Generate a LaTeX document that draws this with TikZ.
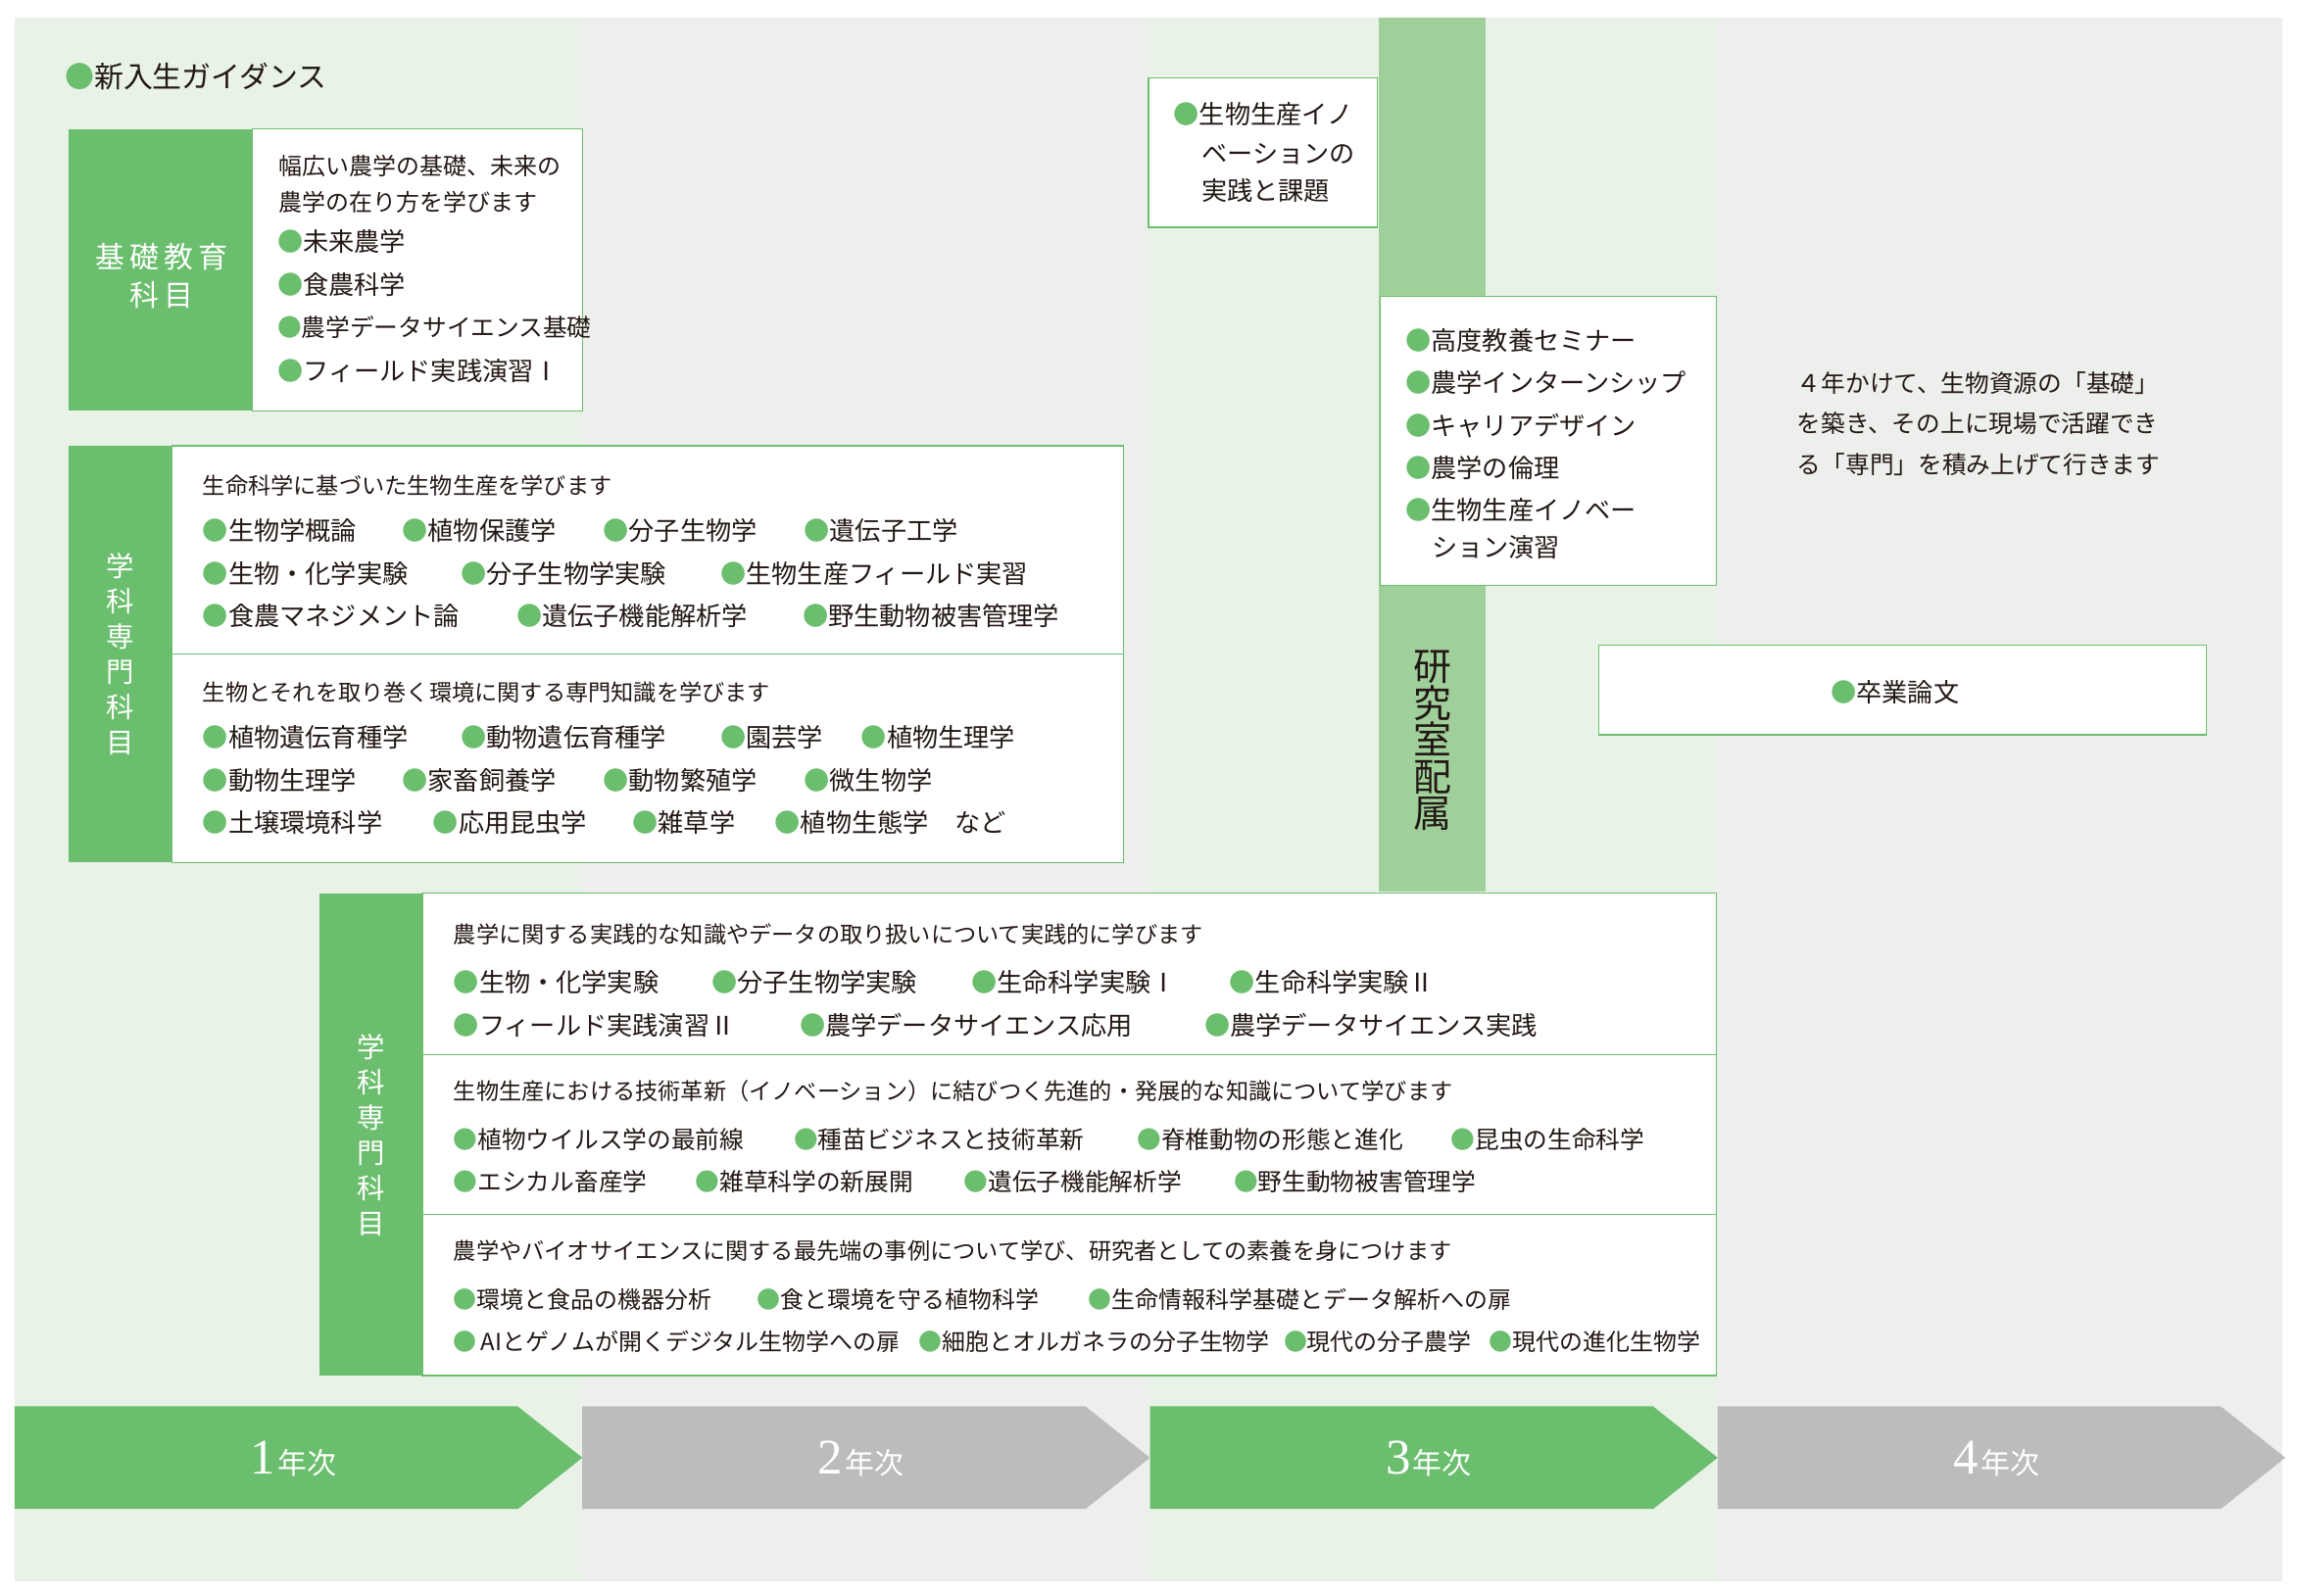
\documentclass[tikz,border=0pt]{standalone}
\usepackage{fontspec}
\setmainfont{Noto Sans CJK JP}
\usetikzlibrary{positioning}
\definecolor{gr}{HTML}{6BBE6E}
\definecolor{lgr}{HTML}{E8F2E6}
\definecolor{lgy}{HTML}{EDEFED}
\definecolor{mgr}{HTML}{A0D09A}
\definecolor{gy}{HTML}{BBBDBB}
\definecolor{tx}{HTML}{231815}
\newcommand{\bu}{{\color{gr}●}}
\newcommand{\fs}[1]{\fontsize{#1}{#1}\selectfont}
\tikzset{x=1pt,y=-1pt,
 wbox/.style={draw=gr,line width=0.8pt,fill=white},
 lab/.style={fill=gr,draw=none},
 itm/.style={anchor=west,inner sep=0,text=tx,font=\fs{17.5}},
 hd/.style={anchor=west,inner sep=0,text=tx,font=\fs{15.5}},
 vlab/.style={text=white,font=\fs{19},align=center,inner sep=0},
 yr/.style={text=white,inner sep=0}}
\begin{document}
\begin{tikzpicture}
\useasboundingbox (0,0) rectangle (1566,1088);
\fill[white] (0,0) rectangle (1566,1088);
% columns
\fill[lgr] (10,12) rectangle (397,1078);
\fill[lgy] (397,12) rectangle (784,1078);
\fill[lgr] (784,12) rectangle (1170,1078);
\fill[lgy] (1170,12) rectangle (1556,1078);
\fill[mgr] (940,12) rectangle (1013,608);
\node[anchor=center,text=tx,font=\fs{26},align=center] (ken) at (977,505) {研\\[-1pt]究\\[-1pt]室\\[-1pt]配\\[-1pt]属};
% guidance
\node[itm,font=\fs{20}] (guid) at (44,52) {\bu 新入生ガイダンス};
% kiso
\fill[lab] (47,88) rectangle (172,280);
\draw[wbox] (172,88) rectangle (397,280);
\node[vlab,font=\fs{20}] (kisol) at (110,188) {基\,礎\,教\,育\\[6pt]科\,目};
\node[hd,font=\fs{16}] at (190,113) {幅広い農学の基礎、未来の};
\node[hd,font=\fs{16}] at (190,138) {農学の在り方を学びます};
\node[itm] at (189,165) {\bu 未来農学};
\node[itm] at (189,194) {\bu 食農科学};
\node[itm,font=\fs{16.5}] at (189,223) {\bu 農学データサイエンス基礎};
\node[itm] at (189,253) {\bu フィールド実践演習Ⅰ};
% senmon 1
\fill[lab] (47,304) rectangle (117,588);
\draw[wbox] (117,304) rectangle (766,588);
\draw[gr,line width=0.8pt] (117,446) -- (766,446);
\node[vlab] (s1) at (82,446) {学\\[5pt]科\\[5pt]専\\[5pt]門\\[5pt]科\\[5pt]目};
\node[hd] at (138,331) {生命科学に基づいた生物生産を学びます};
\node[itm] at (138,362) {\bu 生物学概論};
\node[itm] at (274,362) {\bu 植物保護学};
\node[itm] at (411,362) {\bu 分子生物学};
\node[itm] at (548,362) {\bu 遺伝子工学};
\node[itm] at (138,391) {\bu 生物・化学実験};
\node[itm] at (314,391) {\bu 分子生物学実験};
\node[itm] at (491,391) {\bu 生物生産フィールド実習};
\node[itm] at (138,420) {\bu 食農マネジメント論};
\node[itm] at (352,420) {\bu 遺伝子機能解析学};
\node[itm] at (547,420) {\bu 野生動物被害管理学};
\node[hd] at (138,472) {生物とそれを取り巻く環境に関する専門知識を学びます};
\node[itm] at (138,503) {\bu 植物遺伝育種学};
\node[itm] at (314,503) {\bu 動物遺伝育種学};
\node[itm] at (491,503) {\bu 園芸学};
\node[itm] at (587,503) {\bu 植物生理学};
\node[itm] at (138,532) {\bu 動物生理学};
\node[itm] at (274,532) {\bu 家畜飼養学};
\node[itm] at (411,532) {\bu 動物繁殖学};
\node[itm] at (548,532) {\bu 微生物学};
\node[itm] at (138,561) {\bu 土壌環境科学};
\node[itm] at (295,561) {\bu 応用昆虫学};
\node[itm] at (431,561) {\bu 雑草学};
\node[itm] at (528,561) {\bu 植物生態学\hspace{18pt}など};
% senmon 2
\fill[lab] (218,609) rectangle (288,938);
\draw[wbox] (288,609) rectangle (1170,938);
\draw[gr,line width=0.8pt] (288,719) -- (1170,719);
\draw[gr,line width=0.8pt] (288,828) -- (1170,828);
\node[vlab] (s2) at (253,774) {学\\[5pt]科\\[5pt]専\\[5pt]門\\[5pt]科\\[5pt]目};
\node[hd] at (309,637) {農学に関する実践的な知識やデータの取り扱いについて実践的に学びます};
\node[itm] at (309,670) {\bu 生物・化学実験};
\node[itm] at (485,670) {\bu 分子生物学実験};
\node[itm] at (662,670) {\bu 生命科学実験Ⅰ};
\node[itm] at (838,670) {\bu 生命科学実験Ⅱ};
\node[itm] at (309,699) {\bu フィールド実践演習Ⅱ};
\node[itm] at (545,699) {\bu 農学データサイエンス応用};
\node[itm] at (821,699) {\bu 農学データサイエンス実践};
\node[hd] at (309,744) {生物生産における技術革新（イノベーション）に結びつく先進的・発展的な知識について学びます};
\node[itm,font=\fs{16.5}] at (309,777) {\bu 植物ウイルス学の最前線};
\node[itm,font=\fs{16.5}] at (541,777) {\bu 種苗ビジネスと技術革新};
\node[itm,font=\fs{16.5}] at (775,777) {\bu 脊椎動物の形態と進化};
\node[itm,font=\fs{16.5}] at (989,777) {\bu 昆虫の生命科学};
\node[itm,font=\fs{16.5}] at (309,806) {\bu エシカル畜産学};
\node[itm,font=\fs{16.5}] at (474,806) {\bu 雑草科学の新展開};
\node[itm,font=\fs{16.5}] at (657,806) {\bu 遺伝子機能解析学};
\node[itm,font=\fs{16.5}] at (841,806) {\bu 野生動物被害管理学};
\node[hd] at (309,853) {農学やバイオサイエンスに関する最先端の事例について学び、研究者としての素養を身につけます};
\node[itm,font=\fs{16}] at (309,886) {\bu 環境と食品の機器分析};
\node[itm,font=\fs{16}] at (516,886) {\bu 食と環境を守る植物科学};
\node[itm,font=\fs{16}] at (742,886) {\bu 生命情報科学基礎とデータ解析への扉};
\node[itm,font=\fs{16}] at (309,915) {\bu \,AIとゲノムが開くデジタル生物学への扉};
\node[itm,font=\fs{16}] at (626,915) {\bu 細胞とオルガネラの分子生物学};
\node[itm,font=\fs{16}] at (875,915) {\bu 現代の分子農学};
\node[itm,font=\fs{16}] at (1015,915) {\bu 現代の進化生物学};
% innovation box
\draw[wbox] (783,53) rectangle (939,155);
\node[itm] (inno) at (800,78) {\bu 生物生産イノ};
\node[itm] at (819,105) {ベーションの};
\node[itm] at (819,130) {実践と課題};
% kodo box
\draw[wbox] (941,202) rectangle (1170,399);
\node[itm] (kodo) at (958,232) {\bu 高度教養セミナー};
\node[itm] at (958,261) {\bu 農学インターンシップ};
\node[itm] at (958,290) {\bu キャリアデザイン};
\node[itm] at (958,319) {\bu 農学の倫理};
\node[itm] at (958,348) {\bu 生物生産イノベー};
\node[itm] at (976,373) {ション演習};
% sotsuron
\draw[wbox] (1090,440) rectangle (1504,501);
\node[itm] (sotsu) at (1248,472) {\bu 卒業論文};
% text
\node[hd,font=\fs{16.5}] (t1) at (1225,261) {４年かけて、生物資源の「基礎」};
\node[hd,font=\fs{16.5}] at (1225,289) {を築き、その上に現場で活躍でき};
\node[hd,font=\fs{16.5}] at (1225,317) {る「専門」を積み上げて行きます};
% year arrows
\foreach \i/\c/\n in {0/gr/1,1/gy/2,2/gr/3,3/gy/4}{
 \fill[\c] ({10+387*\i},959) -- ({353+387*\i},959) -- ({397+387*\i},994) -- ({353+387*\i},1029) -- ({10+387*\i},1029) -- cycle;
 \node[yr] (y\n) at ({200+387*\i},995) {{\fontspec{Liberation Serif}\fs{34}\n}\,{\fs{20}年次}};
}
\end{tikzpicture}
\end{document}
